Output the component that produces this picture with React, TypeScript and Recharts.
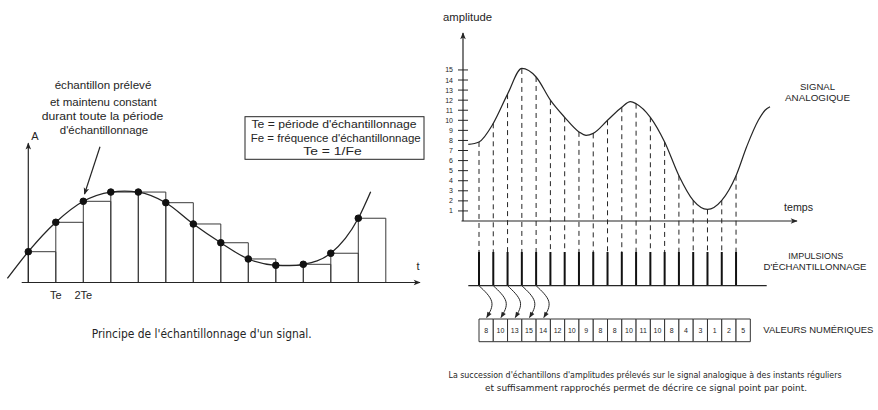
import React from 'react';
import { ComposedChart, Line, XAxis, YAxis, ReferenceLine, ReferenceArea, ReferenceDot } from 'recharts';

// ---------- Left panel: principle of sample-and-hold ----------
const leftSampleTimes = [0, 1, 2, 3, 4, 5, 6, 7, 8, 9, 10, 11, 12];
const leftSampleValues = [22, 43, 58, 64.6, 64.6, 57, 41.8, 28.4, 16.8, 12.3, 13, 20.9, 45.9];
const leftCurveTimes = [-0.76, 0, 1, 2, 3, 3.5, 4, 5, 6, 7, 8, 9, 9.5, 10, 11, 12, 12.45];
const leftCurveValues = [2.9, 22, 43, 58, 64.6, 65.3, 64.6, 57, 41.8, 28.4, 16.8, 12.3, 12.0, 13, 20.9, 45.9, 64.9];
const leftTickTimes = [1, 2];
const leftTickLabels = ['Te', '2Te'];

// ---------- Right panel: analog signal, impulses, digital values ----------
const sampleTimes = [0, 1, 2, 3, 4, 5, 6, 7, 8, 9, 10, 11, 12, 13, 14, 15, 16, 17, 18];
const digitalValues = [8, 10, 13, 15, 14, 12, 10, 9, 8, 8, 10, 11, 10, 8, 4, 3, 1, 2, 5];
const sampledLevels = [7.85, 9.7, 12.6, 15.1, 14.3, 12.0, 10.3, 8.85, 8.7, 10.0, 11.3, 11.65, 10.3, 7.85, 4.5, 2.05, 1.15, 2.05, 4.5];
const signalTimes = [-0.75, 0, 1, 2, 3, 4, 5, 6, 7, 7.5, 8, 9, 10, 10.6, 11, 12, 13, 14, 15, 16, 17, 18, 18.75, 19.56, 20.03, 20.38];
const signalValues = [7.6, 7.85, 9.7, 12.6, 15.15, 14.3, 12.0, 10.3, 8.85, 8.5, 8.7, 10.0, 11.3, 11.85, 11.65, 10.3, 7.85, 4.5, 2.05, 1.15, 2.05, 4.5, 7.4, 10.0, 11.0, 11.35];
const amplitudeTicks = [1, 2, 3, 4, 5, 6, 7, 8, 9, 10, 11, 12, 13, 14, 15];
const arrowedCount = 5;

const INK = '#252525';
const SANS = '"Liberation Sans", Arial, sans-serif';
const NARROW = '"Liberation Sans Narrow", "DejaVu Sans Condensed", "Liberation Sans", sans-serif';

// layout (pixels)
const L = { w: 430, h: 410, ox: 28.3, unitX: 27.5, baseY: 282.5, unitY: 1.4, axisTop: 143.3 };
const R = { left: 430, w: 448, h: 410, ox: 479, unitX: 14.28, baseY: 221, unitY: 10.07, axisPx: 463, axisTop: 33, arrowEnd: 797 };

const lx = (px: number) => (px - L.ox) / L.unitX;
const ly = (py: number) => (L.baseY - py) / L.unitY;
const rx = (px: number) => (px - R.ox) / R.unitX;
const ry = (py: number) => (R.baseY - py) / R.unitY;

const leftCurve = leftCurveTimes.map((x, i) => ({ x, y: leftCurveValues[i] }));
const signal = signalTimes.map((x, i) => ({ x, y: signalValues[i] }));

const YTick = (props: any) => {
  const { x, y, payload } = props;
  return (
    <g>
      <line x1={x - 5} x2={x + 5} y1={y} y2={y} stroke={INK} strokeWidth={1} />
      <text x={x - 10} y={y + 2.5} textAnchor="end" fontSize={7} fontFamily={SANS} fill={INK}>
        {payload.value}
      </text>
    </g>
  );
};

const T = (p: any) => {
  const { x, y, anchor = 'middle', size = 11, w, font = SANS, children } = p;
  return (
    <text
      x={x}
      y={y}
      textAnchor={anchor}
      fontSize={size}
      fontFamily={font}
      fill={INK}
      {...(w ? { textLength: w, lengthAdjust: 'spacingAndGlyphs' } : {})}
    >
      {children}
    </text>
  );
};

export default function App() {
  const impTop = ry(252);
  const impBottom = ry(285.7);
  const boxTop = ry(319);
  const boxBottom = ry(341.7);
  return (
    <div style={{ position: 'absolute', left: 0, top: 0, width: 878, height: 410, background: '#fff', overflow: 'hidden' }}>
      <svg width={0} height={0} style={{ position: 'absolute' }}>
        <defs>
          <marker id="ah" viewBox="0 0 10 10" refX="9" refY="5" markerWidth="8" markerHeight="7" markerUnits="userSpaceOnUse" orient="auto">
            <path d="M0,1 L10,5 L0,9 L2.5,5 z" fill={INK} />
          </marker>
          <marker id="ahs" viewBox="0 0 10 10" refX="9" refY="5" markerWidth="7" markerHeight="6" markerUnits="userSpaceOnUse" orient="auto">
            <path d="M0,1 L10,5 L0,9 z" fill={INK} />
          </marker>
        </defs>
      </svg>

      {/* Left chart */}
      <div style={{ position: 'absolute', left: 0, top: 0 }}>
        <ComposedChart width={L.w} height={L.h} margin={{ top: 0, right: 0, bottom: 0, left: 0 }}>
          <XAxis type="number" dataKey="x" domain={[lx(0), lx(L.w)]} hide allowDataOverflow />
          <YAxis type="number" domain={[ly(L.h), ly(0)]} hide allowDataOverflow />
          {leftSampleTimes.map((t, i) => (
            <ReferenceArea key={'h' + i} x1={t} x2={t + 1} y1={0} y2={leftSampleValues[i]} fill="none" fillOpacity={0} stroke="#3a3a3a" strokeWidth={1} ifOverflow="visible" />
          ))}
          <ReferenceLine segment={[{ x: lx(21.7), y: 0 }, { x: lx(420), y: 0 }]} stroke={INK} strokeWidth={1.2} markerEnd="url(#ah)" ifOverflow="visible" />
          <ReferenceLine segment={[{ x: 0, y: 0 }, { x: 0, y: ly(L.axisTop) }]} stroke={INK} strokeWidth={1.2} markerEnd="url(#ah)" ifOverflow="visible" />
          <Line data={leftCurve} dataKey="y" type="monotone" stroke={INK} strokeWidth={1.3} dot={false} activeDot={false} legendType="none" isAnimationActive={false} />
          {leftSampleTimes.map((t, i) => (
            <ReferenceDot key={'d' + i} x={t} y={leftSampleValues[i]} r={3.3} fill="#111" stroke="#111" ifOverflow="visible" />
          ))}
          {leftTickTimes.map((t, i) => (
            <ReferenceDot key={'tl' + i} x={t} y={0} r={0} fill="none" stroke="none" ifOverflow="visible"
              label={{ value: leftTickLabels[i], position: 'bottom', offset: 8.5, fontSize: 11, fill: INK, fontFamily: SANS }} />
          ))}
          <ReferenceLine segment={[{ x: lx(100), y: ly(146.7) }, { x: lx(84.5), y: ly(194) }]} stroke={INK} strokeWidth={1.2} markerEnd="url(#ah)" ifOverflow="visible" />
        </ComposedChart>
      </div>

      {/* Right chart */}
      <div style={{ position: 'absolute', left: R.left, top: 0 }}>
        <ComposedChart width={R.w} height={R.h} margin={{ top: 0, right: 0, bottom: 0, left: 0 }}>
          <XAxis type="number" dataKey="x" domain={[rx(R.axisPx), rx(R.left + R.w)]} hide allowDataOverflow />
          <YAxis type="number" domain={[ry(R.h), ry(0)]} width={R.axisPx - R.left} ticks={amplitudeTicks}
            axisLine={false} tickLine={false} tickSize={0} tickMargin={0} tick={<YTick />} interval={0} allowDataOverflow />
          <ReferenceLine segment={[{ x: rx(R.axisPx), y: 0 }, { x: rx(R.axisPx), y: ry(R.axisTop) }]} stroke={INK} strokeWidth={1.2} markerEnd="url(#ah)" ifOverflow="visible" />
          <ReferenceLine segment={[{ x: rx(R.axisPx - 1.5), y: 0 }, { x: rx(R.arrowEnd), y: 0 }]} stroke={INK} strokeWidth={1.2} markerEnd="url(#ah)" ifOverflow="visible" />
          {sampleTimes.map((t, i) => (
            <ReferenceLine key={'dl' + i} segment={[{ x: t, y: sampledLevels[i] }, { x: t, y: impTop }]} stroke={INK} strokeWidth={1} strokeDasharray="5 4" ifOverflow="visible" />
          ))}
          {sampleTimes.map((t, i) => (
            <ReferenceLine key={'im' + i} segment={[{ x: t, y: impTop }, { x: t, y: impBottom }]} stroke="#111" strokeWidth={2} ifOverflow="visible" />
          ))}
          <ReferenceLine segment={[{ x: rx(468.3), y: impBottom }, { x: rx(766.7), y: impBottom }]} stroke={INK} strokeWidth={1.2} ifOverflow="visible" />
          <Line data={signal} dataKey="y" type="monotone" stroke={INK} strokeWidth={1.2} dot={false} activeDot={false} legendType="none" isAnimationActive={false} />
          {sampleTimes.slice(0, arrowedCount).map((t) => (
            <Line key={'ar' + t}
              data={[{ x: t, y: impBottom }, { x: t + 0.89, y: ry(301.7) }, { x: t + 0.54, y: ry(317.5) }]}
              dataKey="y" type="natural" stroke={INK} strokeWidth={1} dot={false} activeDot={false} legendType="none" isAnimationActive={false} markerEnd="url(#ahs)" />
          ))}
          {sampleTimes.map((t, i) => (
            <ReferenceArea key={'bx' + i} x1={t} x2={t + 1} y1={boxBottom} y2={boxTop} fill="#fff" fillOpacity={1} stroke="#333" strokeWidth={1} ifOverflow="visible"
              label={{ value: String(digitalValues[i]), position: 'center', fontSize: 7, fill: INK, fontFamily: SANS }} />
          ))}
        </ComposedChart>
      </div>

      {/* Text overlay */}
      <svg width={878} height={410} style={{ position: 'absolute', left: 0, top: 0, pointerEvents: 'none' }}>
        <T x={35} y={140}>A</T>
        <T x={418} y={270}>t</T>
        <T x={103} y={89} w={96.7}>échantillon prélevé</T>
        <T x={103.3} y={105.5} w={106.7}>et maintenu constant</T>
        <T x={102.5} y={119.8} w={121.7}>durant toute la  période</T>
        <T x={104} y={133.5} w={88.3}>d'échantillonnage</T>
        <rect x={245} y={116.7} width={179} height={42.6} fill="none" stroke={INK} strokeWidth={1} />
        <T x={334} y={127.5} w={165}>Te = période d'échantillonnage</T>
        <T x={335.7} y={142} w={170}>Fe = fréquence d'échantillonnage</T>
        <T x={332.5} y={155} w={58.3}>Te = 1/Fe</T>
        <T x={201.7} y={337.5} size={12.5} w={220} font={NARROW}>Principe de l'échantillonnage d'un signal.</T>

        <T x={443} y={21} anchor="start" size={10} w={49}>amplitude</T>
        <T x={817.5} y={90} size={9.5} w={35}>SIGNAL</T>
        <T x={817.5} y={100.7} size={9.5} w={65}>ANALOGIQUE</T>
        <T x={784} y={211} anchor="start" size={10} w={29}>temps</T>
        <T x={815.8} y={258.5} size={9.5} w={55}>IMPULSIONS</T>
        <T x={815} y={269.5} size={9.5} w={103}>D'ÉCHANTILLONNAGE</T>
        <T x={763.3} y={333} anchor="start" size={9.5} w={110}>VALEURS NUMÉRIQUES</T>
        <T x={645} y={378} size={9} w={393} font={NARROW}>La succession d'échantillons d'amplitudes prélevés sur le signal analogique à des instants réguliers</T>
        <T x={646} y={390.5} size={9} w={322} font={NARROW}>et suffisamment rapprochés permet de décrire ce signal point par point.</T>
      </svg>
    </div>
  );
}
